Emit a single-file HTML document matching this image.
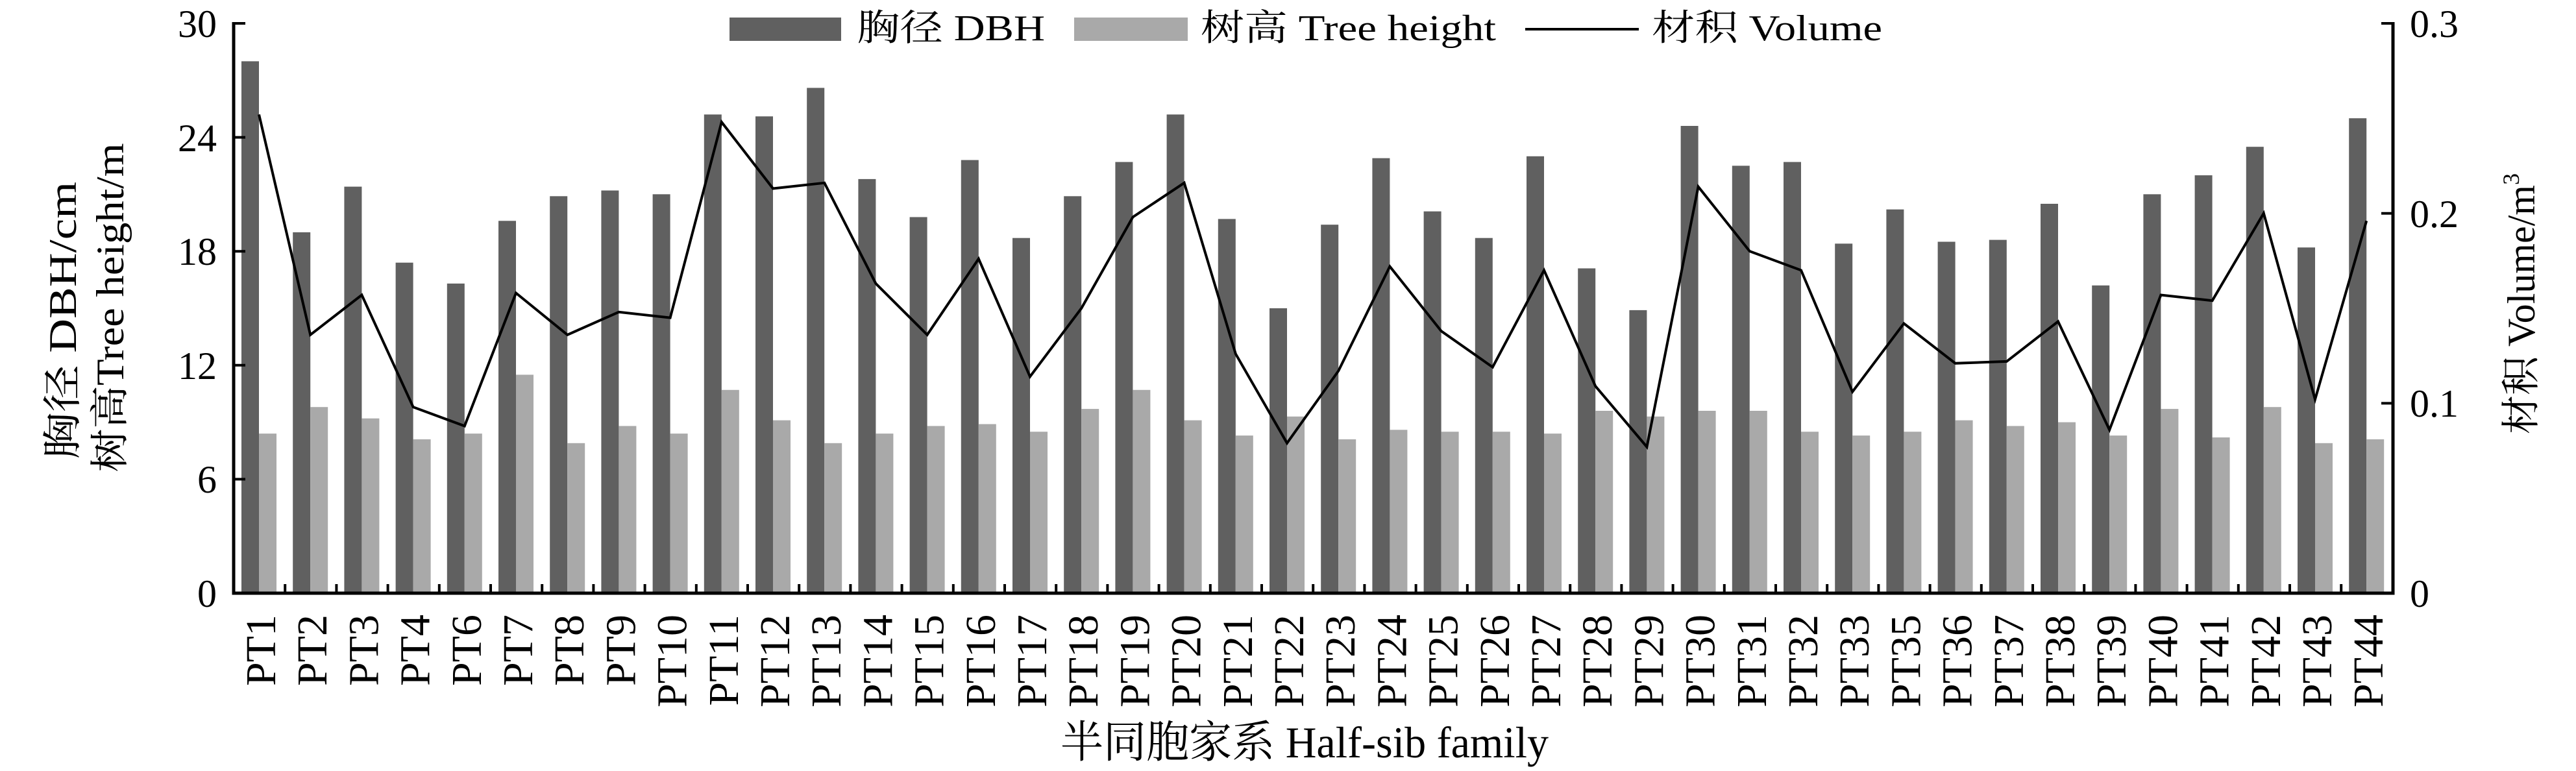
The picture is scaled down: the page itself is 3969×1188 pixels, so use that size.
<!DOCTYPE html>
<html><head><meta charset="utf-8"><style>html,body{margin:0;padding:0;background:#fff}svg{display:block}</style></head>
<body>
<svg width="3969" height="1188" viewBox="0 0 3969 1188" xmlns="http://www.w3.org/2000/svg" font-family="'Liberation Serif','Noto Serif CJK SC',serif">
<g fill="#606060">
<rect x="372" y="94.4" width="27" height="819.6"/>
<rect x="451.2" y="357.9" width="27" height="556.1"/>
<rect x="530.4" y="287.6" width="27" height="626.4"/>
<rect x="609.6" y="404.7" width="27" height="509.3"/>
<rect x="688.8" y="436.9" width="27" height="477.1"/>
<rect x="768" y="340.3" width="27" height="573.7"/>
<rect x="847.2" y="302.3" width="27" height="611.7"/>
<rect x="926.4" y="293.5" width="27" height="620.5"/>
<rect x="1005.6" y="299.3" width="27" height="614.7"/>
<rect x="1084.8" y="176.4" width="27" height="737.6"/>
<rect x="1164" y="179.3" width="27" height="734.7"/>
<rect x="1243.2" y="135.4" width="27" height="778.6"/>
<rect x="1322.4" y="275.9" width="27" height="638.1"/>
<rect x="1401.6" y="334.5" width="27" height="579.5"/>
<rect x="1480.8" y="246.6" width="27" height="667.4"/>
<rect x="1560" y="366.7" width="27" height="547.3"/>
<rect x="1639.2" y="302.3" width="27" height="611.7"/>
<rect x="1718.4" y="249.6" width="27" height="664.4"/>
<rect x="1797.6" y="176.4" width="27" height="737.6"/>
<rect x="1876.8" y="337.4" width="27" height="576.6"/>
<rect x="1956" y="475" width="27" height="439"/>
<rect x="2035.2" y="346.2" width="27" height="567.8"/>
<rect x="2114.4" y="243.7" width="27" height="670.3"/>
<rect x="2193.6" y="325.7" width="27" height="588.3"/>
<rect x="2272.8" y="366.7" width="27" height="547.3"/>
<rect x="2352" y="240.8" width="27" height="673.2"/>
<rect x="2431.2" y="413.5" width="27" height="500.5"/>
<rect x="2510.4" y="477.9" width="27" height="436.1"/>
<rect x="2589.6" y="194" width="27" height="720"/>
<rect x="2668.8" y="255.4" width="27" height="658.6"/>
<rect x="2748" y="249.6" width="27" height="664.4"/>
<rect x="2827.2" y="375.4" width="27" height="538.6"/>
<rect x="2906.4" y="322.7" width="27" height="591.3"/>
<rect x="2985.6" y="372.5" width="27" height="541.5"/>
<rect x="3064.8" y="369.6" width="27" height="544.4"/>
<rect x="3144" y="314" width="27" height="600"/>
<rect x="3223.2" y="439.8" width="27" height="474.2"/>
<rect x="3302.4" y="299.3" width="27" height="614.7"/>
<rect x="3381.6" y="270.1" width="27" height="643.9"/>
<rect x="3460.8" y="226.2" width="27" height="687.8"/>
<rect x="3540" y="381.3" width="27" height="532.7"/>
<rect x="3619.2" y="182.2" width="27" height="731.8"/>
</g>
<g fill="#a9a9a9">
<rect x="399" y="668.1" width="27" height="245.9"/>
<rect x="478.2" y="627.2" width="27" height="286.8"/>
<rect x="557.4" y="644.7" width="27" height="269.3"/>
<rect x="636.6" y="676.9" width="27" height="237.1"/>
<rect x="715.8" y="668.1" width="27" height="245.9"/>
<rect x="795" y="577.4" width="27" height="336.6"/>
<rect x="874.2" y="682.8" width="27" height="231.2"/>
<rect x="953.4" y="656.4" width="27" height="257.6"/>
<rect x="1032.6" y="668.1" width="27" height="245.9"/>
<rect x="1111.8" y="600.8" width="27" height="313.2"/>
<rect x="1191" y="647.6" width="27" height="266.4"/>
<rect x="1270.2" y="682.8" width="27" height="231.2"/>
<rect x="1349.4" y="668.1" width="27" height="245.9"/>
<rect x="1428.6" y="656.4" width="27" height="257.6"/>
<rect x="1507.8" y="653.5" width="27" height="260.5"/>
<rect x="1587" y="665.2" width="27" height="248.8"/>
<rect x="1666.2" y="630.1" width="27" height="283.9"/>
<rect x="1745.4" y="600.8" width="27" height="313.2"/>
<rect x="1824.6" y="647.6" width="27" height="266.4"/>
<rect x="1903.8" y="671.1" width="27" height="242.9"/>
<rect x="1983" y="641.8" width="27" height="272.2"/>
<rect x="2062.2" y="676.9" width="27" height="237.1"/>
<rect x="2141.4" y="662.3" width="27" height="251.7"/>
<rect x="2220.6" y="665.2" width="27" height="248.8"/>
<rect x="2299.8" y="665.2" width="27" height="248.8"/>
<rect x="2379" y="668.1" width="27" height="245.9"/>
<rect x="2458.2" y="633" width="27" height="281"/>
<rect x="2537.4" y="641.8" width="27" height="272.2"/>
<rect x="2616.6" y="633" width="27" height="281"/>
<rect x="2695.8" y="633" width="27" height="281"/>
<rect x="2775" y="665.2" width="27" height="248.8"/>
<rect x="2854.2" y="671.1" width="27" height="242.9"/>
<rect x="2933.4" y="665.2" width="27" height="248.8"/>
<rect x="3012.6" y="647.6" width="27" height="266.4"/>
<rect x="3091.8" y="656.4" width="27" height="257.6"/>
<rect x="3171" y="650.6" width="27" height="263.4"/>
<rect x="3250.2" y="671.1" width="27" height="242.9"/>
<rect x="3329.4" y="630.1" width="27" height="283.9"/>
<rect x="3408.6" y="674" width="27" height="240"/>
<rect x="3487.8" y="627.2" width="27" height="286.8"/>
<rect x="3567" y="682.8" width="27" height="231.2"/>
<rect x="3646.2" y="676.9" width="27" height="237.1"/>
</g>
<polyline fill="none" stroke="#000" stroke-width="4" stroke-linejoin="miter" points="399,176.4 478.2,515.9 557.4,454.5 636.6,627.2 715.8,656.4 795,451.5 874.2,515.9 953.4,480.8 1032.6,489.6 1111.8,188.1 1191,290.5 1270.2,281.8 1349.4,436.9 1428.6,515.9 1507.8,398.8 1587,580.3 1666.2,475 1745.4,334.5 1824.6,281.8 1903.8,545.2 1983,682.8 2062.2,571.5 2141.4,410.6 2220.6,510.1 2299.8,565.7 2379,416.4 2458.2,595 2537.4,688.6 2616.6,287.6 2695.8,387.1 2775,416.4 2854.2,603.7 2933.4,498.4 3012.6,559.8 3091.8,556.9 3171,495.4 3250.2,662.3 3329.4,454.5 3408.6,463.2 3487.8,328.6 3567,615.4 3646.2,340.3"/>
<g stroke="#000" stroke-width="5" fill="none">
<polyline points="360,34 360,914 3687,914 3687,34"/>
</g>
<g stroke="#000" stroke-width="4">
<line x1="360" y1="36" x2="378" y2="36"/><line x1="360" y1="211.6" x2="378" y2="211.6"/><line x1="360" y1="387.2" x2="378" y2="387.2"/><line x1="360" y1="562.8" x2="378" y2="562.8"/><line x1="360" y1="738.4" x2="378" y2="738.4"/>
<line x1="3669" y1="36" x2="3687" y2="36"/><line x1="3669" y1="328.7" x2="3687" y2="328.7"/><line x1="3669" y1="621.4" x2="3687" y2="621.4"/>
<line x1="439.2" y1="900" x2="439.2" y2="914"/><line x1="518.4" y1="900" x2="518.4" y2="914"/><line x1="597.6" y1="900" x2="597.6" y2="914"/><line x1="676.8" y1="900" x2="676.8" y2="914"/><line x1="756" y1="900" x2="756" y2="914"/><line x1="835.2" y1="900" x2="835.2" y2="914"/><line x1="914.4" y1="900" x2="914.4" y2="914"/><line x1="993.6" y1="900" x2="993.6" y2="914"/><line x1="1072.8" y1="900" x2="1072.8" y2="914"/><line x1="1152" y1="900" x2="1152" y2="914"/><line x1="1231.2" y1="900" x2="1231.2" y2="914"/><line x1="1310.4" y1="900" x2="1310.4" y2="914"/><line x1="1389.6" y1="900" x2="1389.6" y2="914"/><line x1="1468.8" y1="900" x2="1468.8" y2="914"/><line x1="1548" y1="900" x2="1548" y2="914"/><line x1="1627.2" y1="900" x2="1627.2" y2="914"/><line x1="1706.4" y1="900" x2="1706.4" y2="914"/><line x1="1785.6" y1="900" x2="1785.6" y2="914"/><line x1="1864.8" y1="900" x2="1864.8" y2="914"/><line x1="1944" y1="900" x2="1944" y2="914"/><line x1="2023.2" y1="900" x2="2023.2" y2="914"/><line x1="2102.4" y1="900" x2="2102.4" y2="914"/><line x1="2181.6" y1="900" x2="2181.6" y2="914"/><line x1="2260.8" y1="900" x2="2260.8" y2="914"/><line x1="2340" y1="900" x2="2340" y2="914"/><line x1="2419.2" y1="900" x2="2419.2" y2="914"/><line x1="2498.4" y1="900" x2="2498.4" y2="914"/><line x1="2577.6" y1="900" x2="2577.6" y2="914"/><line x1="2656.8" y1="900" x2="2656.8" y2="914"/><line x1="2736" y1="900" x2="2736" y2="914"/><line x1="2815.2" y1="900" x2="2815.2" y2="914"/><line x1="2894.4" y1="900" x2="2894.4" y2="914"/><line x1="2973.6" y1="900" x2="2973.6" y2="914"/><line x1="3052.8" y1="900" x2="3052.8" y2="914"/><line x1="3132" y1="900" x2="3132" y2="914"/><line x1="3211.2" y1="900" x2="3211.2" y2="914"/><line x1="3290.4" y1="900" x2="3290.4" y2="914"/><line x1="3369.6" y1="900" x2="3369.6" y2="914"/><line x1="3448.8" y1="900" x2="3448.8" y2="914"/><line x1="3528" y1="900" x2="3528" y2="914"/><line x1="3607.2" y1="900" x2="3607.2" y2="914"/>
</g>
<g font-size="60" fill="#000" text-anchor="end">
<text x="334" y="57">30</text><text x="334" y="233">24</text><text x="334" y="408">18</text><text x="334" y="584">12</text><text x="334" y="759">6</text><text x="334" y="935">0</text>
</g>
<g font-size="60" fill="#000">
<text x="3713" y="57">0.3</text><text x="3713" y="350">0.2</text><text x="3713" y="642">0.1</text><text x="3713" y="935">0</text>
</g>
<g font-size="66" fill="#000" text-anchor="end">
<text transform="translate(424,947) rotate(-90)">PT1</text>
<text transform="translate(503.2,947) rotate(-90)">PT2</text>
<text transform="translate(582.4,947) rotate(-90)">PT3</text>
<text transform="translate(661.6,947) rotate(-90)">PT4</text>
<text transform="translate(740.8,947) rotate(-90)">PT6</text>
<text transform="translate(820,947) rotate(-90)">PT7</text>
<text transform="translate(899.2,947) rotate(-90)">PT8</text>
<text transform="translate(978.4,947) rotate(-90)">PT9</text>
<text transform="translate(1057.6,947) rotate(-90)">PT10</text>
<text transform="translate(1136.8,947) rotate(-90)">PT11</text>
<text transform="translate(1216,947) rotate(-90)">PT12</text>
<text transform="translate(1295.2,947) rotate(-90)">PT13</text>
<text transform="translate(1374.4,947) rotate(-90)">PT14</text>
<text transform="translate(1453.6,947) rotate(-90)">PT15</text>
<text transform="translate(1532.8,947) rotate(-90)">PT16</text>
<text transform="translate(1612,947) rotate(-90)">PT17</text>
<text transform="translate(1691.2,947) rotate(-90)">PT18</text>
<text transform="translate(1770.4,947) rotate(-90)">PT19</text>
<text transform="translate(1849.6,947) rotate(-90)">PT20</text>
<text transform="translate(1928.8,947) rotate(-90)">PT21</text>
<text transform="translate(2008,947) rotate(-90)">PT22</text>
<text transform="translate(2087.2,947) rotate(-90)">PT23</text>
<text transform="translate(2166.4,947) rotate(-90)">PT24</text>
<text transform="translate(2245.6,947) rotate(-90)">PT25</text>
<text transform="translate(2324.8,947) rotate(-90)">PT26</text>
<text transform="translate(2404,947) rotate(-90)">PT27</text>
<text transform="translate(2483.2,947) rotate(-90)">PT28</text>
<text transform="translate(2562.4,947) rotate(-90)">PT29</text>
<text transform="translate(2641.6,947) rotate(-90)">PT30</text>
<text transform="translate(2720.8,947) rotate(-90)">PT31</text>
<text transform="translate(2800,947) rotate(-90)">PT32</text>
<text transform="translate(2879.2,947) rotate(-90)">PT33</text>
<text transform="translate(2958.4,947) rotate(-90)">PT35</text>
<text transform="translate(3037.6,947) rotate(-90)">PT36</text>
<text transform="translate(3116.8,947) rotate(-90)">PT37</text>
<text transform="translate(3196,947) rotate(-90)">PT38</text>
<text transform="translate(3275.2,947) rotate(-90)">PT39</text>
<text transform="translate(3354.4,947) rotate(-90)">PT40</text>
<text transform="translate(3433.6,947) rotate(-90)">PT41</text>
<text transform="translate(3512.8,947) rotate(-90)">PT42</text>
<text transform="translate(3592,947) rotate(-90)">PT43</text>
<text transform="translate(3671.2,947) rotate(-90)">PT44</text>
</g>
<g font-size="60" fill="#000" text-anchor="middle">
<text transform="translate(117,494) rotate(-90)" textLength="428" lengthAdjust="spacingAndGlyphs">胸径 DBH/cm</text>
<text transform="translate(190,474) rotate(-90)" textLength="507" lengthAdjust="spacingAndGlyphs">树高Tree height/m</text>
<text transform="translate(3905,468) rotate(-90)">材积 Volume/m<tspan font-size="36" dy="-24">3</tspan></text>
<text x="2010" y="1167" font-size="68" textLength="752" lengthAdjust="spacingAndGlyphs">半同胞家系 Half-sib family</text>
</g>
<rect x="1124" y="27" width="172" height="36" fill="#606060"/>
<rect x="1655" y="27" width="175" height="36" fill="#a9a9a9"/>
<line x1="2350" y1="45" x2="2525" y2="45" stroke="#000" stroke-width="4"/>
<g font-size="56" fill="#000">
<text x="1320" y="62" textLength="290" lengthAdjust="spacingAndGlyphs">胸径 DBH</text>
<text x="1850" y="62" textLength="455" lengthAdjust="spacingAndGlyphs">树高 Tree height</text>
<text x="2545" y="62" textLength="355" lengthAdjust="spacingAndGlyphs">材积 Volume</text>
</g>
</svg>
</body></html>
